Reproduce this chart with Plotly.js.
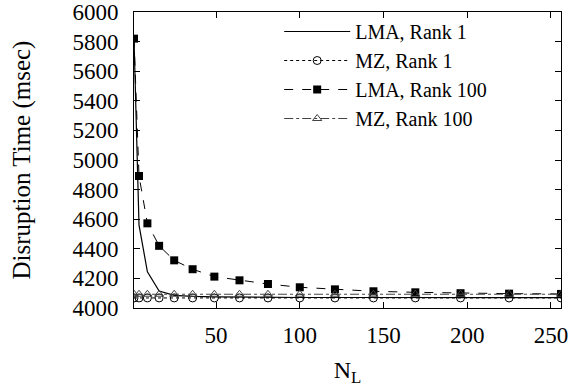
<!DOCTYPE html>
<html>
<head>
<meta charset="utf-8">
<script src="https://cdn.plot.ly/plotly-3.0.1.min.js"></script>
<style>html,body{margin:0;padding:0;background:#fff;}#chart{width:580px;height:390px;}</style>
</head>
<body>
<div id="chart"></div>
<script>
const nL = [1, 4, 9, 16, 25, 36, 49, 64, 81, 100, 121, 144, 169, 196, 225, 256];
const lmaRank1 = [5820, 4560, 4245, 4115, 4085, 4078, 4075, 4073, 4072, 4071, 4071, 4070, 4070, 4070, 4070, 4070];
const mzRank1 = [4068, 4068, 4068, 4068, 4068, 4068, 4068, 4068, 4068, 4068, 4068, 4068, 4068, 4068, 4068, 4068];
const lmaRank100 = [5820, 4892, 4572, 4420, 4322, 4262, 4212, 4187, 4162, 4140, 4126, 4113, 4106, 4100, 4097, 4095];
const mzRank100 = [4093, 4093, 4093, 4093, 4093, 4093, 4093, 4093, 4093, 4093, 4093, 4093, 4093, 4093, 4093, 4093];
const seriesNames = ["LMA, Rank 1", "MZ, Rank 1", "LMA, Rank 100", "MZ, Rank 100"];
const yTicks = [4000, 4200, 4400, 4600, 4800, 5000, 5200, 5400, 5600, 5800, 6000];
const xTicks = [50, 100, 150, 200, 250];

const font = "Liberation Serif";
const traces = [
  {x: nL, y: lmaRank1, name: seriesNames[0], mode: "lines",
   line: {color: "#000", width: 1.2, dash: "solid"}},
  {x: nL, y: mzRank1, name: seriesNames[1], mode: "lines+markers",
   line: {color: "#000", width: 1, dash: "dot"},
   marker: {symbol: "circle-open", size: 8, color: "#000", line: {width: 1, color: "#000"}}},
  {x: nL, y: lmaRank100, name: seriesNames[2], mode: "lines+markers",
   line: {color: "#000", width: 1, dash: "dash"},
   marker: {symbol: "square", size: 8, color: "#000"}},
  {x: nL, y: mzRank100, name: seriesNames[3], mode: "lines+markers",
   line: {color: "#444", width: 1, dash: "dashdot"},
   marker: {symbol: "triangle-up-open", size: 8, color: "#444", line: {width: 1, color: "#444"}}}
];

const layout = {
  width: 580, height: 390,
  margin: {l: 134, r: 19, t: 12, b: 82, autoexpand: false},
  paper_bgcolor: "#fff", plot_bgcolor: "#fff",
  font: {family: font, size: 23, color: "#000"},
  showlegend: true,
  legend: {x: 0.34, y: 1.0, xanchor: "left", yanchor: "top",
           bgcolor: "rgba(0,0,0,0)", borderwidth: 0, itemwidth: 66,
           font: {family: font, size: 20}, tracegroupgap: 0},
  xaxis: {range: [1, 256], tickvals: xTicks, ticktext: xTicks.map(String),
          ticks: "inside", ticklen: 6, tickcolor: "#000", mirror: "allticks",
          showline: true, linecolor: "#000", linewidth: 1, showgrid: false, zeroline: false,
          ticklabelstandoff: 6, tickfont: {family: font, size: 23},
          title: {text: "N<sub>L</sub>", font: {family: font, size: 24}, standoff: 14}},
  yaxis: {range: [4000, 6000], tickvals: yTicks, ticktext: yTicks.map(String),
          ticks: "inside", ticklen: 6, tickcolor: "#000", mirror: "allticks",
          showline: true, linecolor: "#000", linewidth: 1, showgrid: false, zeroline: false,
          ticklabelstandoff: 10, tickfont: {family: font, size: 23},
          title: {text: "Disruption Time (msec)", font: {family: font, size: 25}, standoff: 34}}
};

Plotly.newPlot("chart", traces, layout, {displayModeBar: false, staticPlot: true});
</script>
</body>
</html>
